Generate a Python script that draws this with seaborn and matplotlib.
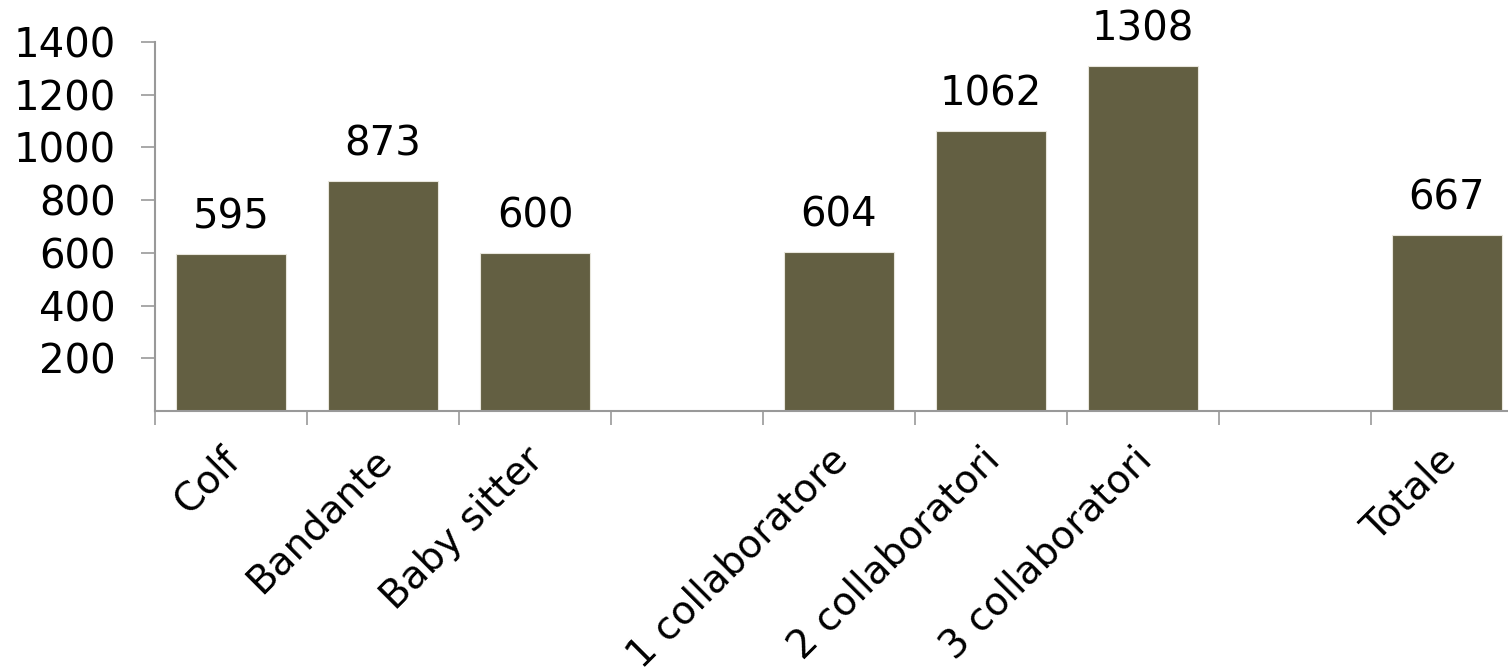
import numpy as np
import pandas as pd
import matplotlib
matplotlib.use("Agg")
import matplotlib.pyplot as plt
import seaborn as sns

categories = ["Colf", "Bandante", "Baby sitter", "", "1 collaboratore",
              "2 collaboratori", "3 collaboratori", " ", "Totale"]
values = [595, 873, 600, np.nan, 604, 1062, 1308, np.nan, 667]
y_ticks = [200, 400, 600, 800, 1000, 1200, 1400]

sns.set_theme(style="white")
plt.rcParams["font.family"] = ["DejaVu Sans"]

df = pd.DataFrame({"categoria": categories, "valore": values})

fig = plt.figure(figsize=(15.08, 6.71), dpi=100)
ax = fig.add_axes([155 / 1508, 1 - 411 / 671, (1523 - 155) / 1508, (411 - 42) / 671])

sns.barplot(data=df, x="categoria", y="valore", order=categories,
            color="#635F42", saturation=1, width=0.73,
            edgecolor="#e8e6dc", linewidth=0.8, ax=ax)

# value labels above the bars
for i, v in enumerate(values):
    if not np.isnan(v):
        ax.text(i, v + 62, f"{int(v)}", ha="center", va="bottom",
                fontsize=29, color="black")

ax.set_xlim(-0.5, len(categories) - 0.5)
ax.set_ylim(0, 1400)
ax.set_yticks(y_ticks)
ax.set_yticklabels([str(t) for t in y_ticks], fontsize=29, color="black")

# category labels, rotated, placed under each bar
ax.set_xticks(range(len(categories)))
ax.tick_params(axis="x", which="major", length=0, labelbottom=False)
for i, cat in enumerate(categories):
    ax.annotate(cat, xy=(i, 0), xycoords=ax.get_xaxis_transform(),
                xytext=(2, -31), textcoords="offset points",
                rotation=45, ha="right", va="center",
                rotation_mode="anchor", fontsize=28, color="black",
                annotation_clip=False)

ax.set_xticks(np.arange(-0.5, len(categories)), minor=True)
ax.tick_params(axis="x", which="minor", length=10, width=1.2,
               color="#999999", direction="out", bottom=True)
ax.tick_params(axis="y", which="major", length=10, width=1.2,
               color="#999999", direction="out", left=True, pad=18)

for side in ["top", "right"]:
    ax.spines[side].set_visible(False)
for side in ["left", "bottom"]:
    ax.spines[side].set_color("#999999")
    ax.spines[side].set_linewidth(1.5)

ax.set_xlabel("")
ax.set_ylabel("")
ax.grid(False)

fig.savefig("out.png", dpi=100)
